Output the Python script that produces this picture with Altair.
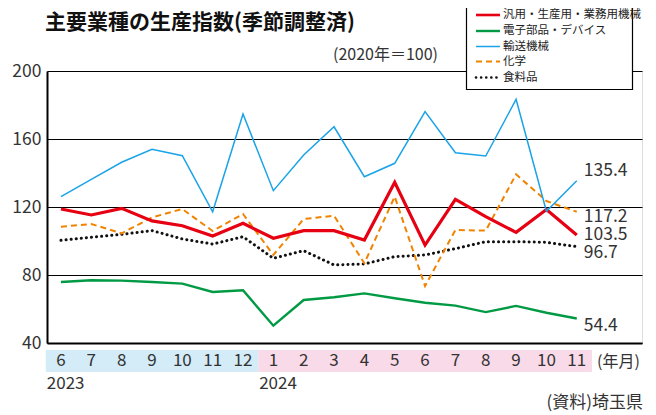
import altair as alt
import pandas as pd

# ---- data ----
months = [6, 7, 8, 9, 10, 11, 12, 1, 2, 3, 4, 5, 6, 7, 8, 9, 10, 11]
years = [2023] * 7 + [2024] * 11
series_names = ["汎用・生産用・業務用機械", "電子部品・デバイス", "輸送機械", "化学", "食料品"]
machinery = [118.8, 115.3, 119.2, 111.8, 109.0, 102.9, 110.4, 101.6, 106.1, 106.1, 100.6, 134.5, 97.6, 124.5, 114.3, 105.1, 118.5, 103.5]
electronic = [75.9, 76.9, 76.7, 75.9, 74.9, 70.0, 71.0, 50.2, 65.3, 66.9, 69.2, 66.3, 63.7, 62.0, 58.2, 61.8, 57.8, 54.4]
transport = [126.1, 136.3, 146.3, 153.9, 150.2, 117.2, 174.7, 129.6, 150.6, 167.2, 137.8, 145.7, 176.1, 151.9, 150.0, 183.3, 117.5, 135.4]
chemical = [108.4, 110.0, 104.5, 113.9, 118.8, 105.9, 115.9, 91.8, 112.9, 114.9, 86.9, 126.1, 73.5, 106.5, 106.1, 139.2, 123.5, 117.2]
food = [100.4, 102.2, 103.9, 106.1, 101.2, 98.2, 102.5, 89.8, 94.3, 85.9, 86.5, 90.8, 91.8, 95.5, 99.6, 99.6, 99.2, 96.7]
y_ticks = [40, 80, 120, 160, 200]

values = {
    series_names[0]: machinery,
    series_names[1]: electronic,
    series_names[2]: transport,
    series_names[3]: chemical,
    series_names[4]: food,
}

rows = []
for name, vals in values.items():
    for i, v in enumerate(vals):
        rows.append({"series": name, "idx": i, "value": v})
df = pd.DataFrame(rows)

# ---- styles ----
FONT = "Noto Sans CJK JP"
TXT = "#333333"
styles = {
    series_names[0]: dict(color="#e60012", strokeWidth=3.2),
    series_names[1]: dict(color="#009a44", strokeWidth=2.4),
    series_names[2]: dict(color="#1aa3e8", strokeWidth=1.5),
    series_names[3]: dict(color="#f08300", strokeWidth=2.0, strokeDash=[6, 4]),
    series_names[4]: dict(color="#111111", strokeWidth=3.0, strokeDash=[0.1, 5], strokeCap="round"),
}

W, H = 595, 272
xscale = alt.Scale(domain=[-0.46, 19.15], nice=False, zero=False)
yscale = alt.Scale(domain=[40, 200], nice=False, zero=False)
xaxis = alt.Axis(labels=False, ticks=False, grid=False, domain=True, domainColor="black",
                 domainWidth=2, title=None)
yaxis = alt.Axis(values=y_ticks, grid=True, gridColor="black", gridWidth=1, ticks=False,
                 domain=True, domainColor="black", domainWidth=2, labelFontSize=17.5,
                 labelColor=TXT, labelPadding=6, labelFlush=False, title=None, labelFont=FONT)

def X(field="idx"):
    return alt.X(f"{field}:Q", scale=xscale, axis=xaxis)

def Y(field="value"):
    return alt.Y(f"{field}:Q", scale=yscale, axis=yaxis)

layers = []

# background bands under month labels
year_list = sorted(set(years))
band_df = pd.DataFrame({
    "year": year_list,
    "start": [years.index(y) - 0.5 for y in year_list],
    "end": [len(years) - 1 - years[::-1].index(y) + 0.5 for y in year_list],
})
band_colors = {2023: "#d4ebf8", 2024: "#f9dae8"}
for yv in year_list:
    layers.append(
        alt.Chart(band_df[band_df.year == yv]).mark_rect(color=band_colors[yv]).encode(
            x=X("start"), x2="end:Q", y=alt.value(279), y2=alt.value(301)
        )
    )

# month labels
month_df = pd.DataFrame({"idx": list(range(len(months))), "m": [str(m) for m in months]})
layers.append(
    alt.Chart(month_df).mark_text(fontSize=17, color=TXT, font=FONT, baseline="middle").encode(
        x=X(), y=alt.value(290), text="m:N"
    )
)
# year labels
layers.append(
    alt.Chart(band_df).mark_text(fontSize=17, color=TXT, font=FONT, align="left",
                                 baseline="middle", dx=1).encode(
        x=X("start"), y=alt.value(313), text="year:N"
    )
)

# lines
draw_order = [series_names[4], series_names[3], series_names[1], series_names[0], series_names[2]]
for name in draw_order:
    layers.append(
        alt.Chart(df).transform_filter(alt.datum.series == name).mark_line(**styles[name]).encode(
            x=X(), y=Y()
        )
    )

# end labels
label_px_offset = {series_names[2]: -10, series_names[3]: 5, series_names[0]: 0,
                   series_names[4]: 6, series_names[1]: 7}
last = len(months) - 1
end_df = pd.DataFrame({
    "series": series_names,
    "idx": [last] * 5,
    "value": [values[n][-1] for n in series_names],
})
end_df["ypos"] = [values[n][-1] - label_px_offset[n] / 1.7 for n in series_names]
end_df["lab"] = [f"{v:.1f}" for v in end_df["value"]]
layers.append(
    alt.Chart(end_df).mark_text(fontSize=17.5, color=TXT, font=FONT, align="left",
                                baseline="middle", dx=7).encode(
        x=X(), y=Y("ypos"), text="lab:N"
    )
)

# legend (custom box)
layers.append(
    alt.Chart(pd.DataFrame({"a": [0]})).mark_rect(fill="white", stroke="black", strokeWidth=1.2).encode(
        x=alt.value(419.5), x2=alt.value(585.5), y=alt.value(-64), y2=alt.value(18.5)
    )
)
legend_rows = [-56, -40, -24.5, -9.5, 6.5]
for i, name in enumerate(series_names):
    st = dict(styles[name])
    st["strokeWidth"] = min(st["strokeWidth"], 2.6)
    layers.append(
        alt.Chart(pd.DataFrame({"a": [0]})).mark_rule(**st).encode(
            x=alt.value(429), x2=alt.value(453), y=alt.value(legend_rows[i])
        )
    )
    layers.append(
        alt.Chart(pd.DataFrame({"t": [name]})).mark_text(fontSize=11.5, color="#222", font=FONT,
                                                         align="left", baseline="middle").encode(
            x=alt.value(456), y=alt.value(legend_rows[i]), text="t:N"
        )
    )

# titles / notes
def note(text, x, y, size=16, align="left", weight="normal", color=TXT):
    return alt.Chart(pd.DataFrame({"t": [text]})).mark_text(
        fontSize=size, color=color, font=FONT, align=align, baseline="middle", fontWeight=weight
    ).encode(x=alt.value(x), y=alt.value(y), text="t:N")

layers.append(note("主要業種の生産指数(季節調整済)", -2, -48, size=21, weight="bold", color="#111"))
layers.append(note("(2020年＝100)", 286, -16, size=16))
layers.append(note("(年月)", 550, 291, size=16))
layers.append(note("(資料)埼玉県", 596, 332, size=17, align="right"))

chart = alt.layer(*layers).properties(
    width=W, height=H,
    autosize=alt.AutoSizeParams(type="none"),
    padding={"left": 39, "top": 63, "right": 6, "bottom": 72},
).configure_view(stroke="black", strokeWidth=1.2).configure(font=FONT)

chart.save("out.html", embed_options={"renderer": "svg", "actions": False})
